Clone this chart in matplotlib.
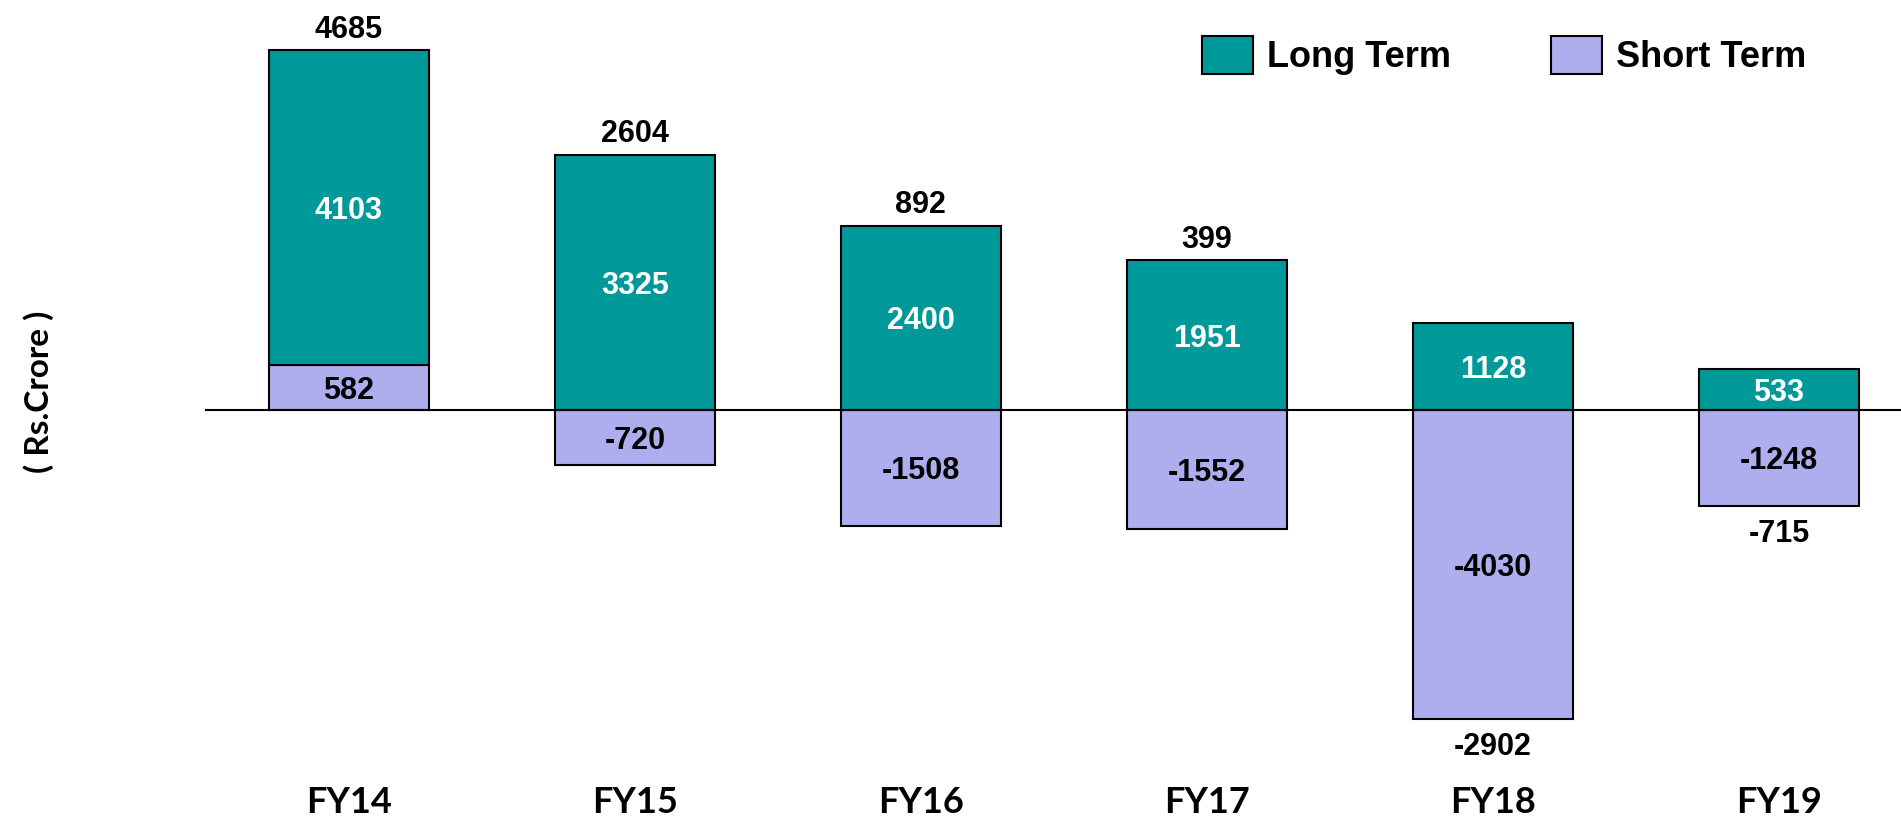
import matplotlib
matplotlib.use("Agg")
import matplotlib.pyplot as plt
from matplotlib.patches import Patch

# Net capital flows by fiscal year (Rs. Crore)
years = ["FY14", "FY15", "FY16", "FY17", "FY18", "FY19"]
long_term = [4103, 3325, 2400, 1951, 1128, 533]
short_term = [582, -720, -1508, -1552, -4030, -1248]
net_total = [4685, 2604, 892, 399, -2902, -715]

LONG_COLOR = "#009999"
SHORT_COLOR = "#AEAEEE"
NUM_FONT = "Liberation Sans"
CAT_FONT = "Lato"

fig = plt.figure(figsize=(19.01, 8.19), dpi=100)
ax = fig.add_axes([0, 0, 1, 1])

x = list(range(len(years)))
width = 0.56

# Positive short-term flows sit beneath the long-term bar; negatives hang below zero
long_bottom = [s if s > 0 else 0 for s in short_term]
ax.bar(x, short_term, width, color=SHORT_COLOR, edgecolor="black", linewidth=1.5, zorder=2)
ax.bar(x, long_term, width, bottom=long_bottom, color=LONG_COLOR, edgecolor="black",
       linewidth=1.5, zorder=2)

ax.axhline(0, xmin=0.1084, xmax=1, color="black", linewidth=1.5, zorder=3)

num_kw = dict(fontsize=22, fontweight="bold", family=NUM_FONT)

for i in x:
    lt, st, tot = long_term[i], short_term[i], net_total[i]
    # segment values
    ax.text(i, long_bottom[i] + lt / 2, f"{lt}", ha="center", va="center_baseline",
            color="white", zorder=4, **num_kw)
    ax.text(i, st / 2, f"{st}", ha="center", va="center_baseline",
            color="black", zorder=4, **num_kw)
    # net total above or below the stack
    if tot >= 0:
        top = long_bottom[i] + lt
        ax.annotate(f"{tot}", (i, top), xytext=(0, 9), textcoords="offset points",
                    ha="center", va="baseline", **num_kw)
    else:
        bot = min(st, 0)
        ax.annotate(f"{tot}", (i, bot), xytext=(0, -26), textcoords="offset points",
                    ha="center", va="baseline", **num_kw)
    ax.text(i, -5250, years[i], ha="center", va="baseline", fontsize=26,
            fontweight="bold", family=CAT_FONT)

ax.text(-1.085, 230, "( Rs.Crore )", rotation=90, ha="center", va="center",
        fontsize=24, fontweight="bold", family=CAT_FONT)

handles = [Patch(facecolor=LONG_COLOR, edgecolor="black", linewidth=1.5, label="Long Term"),
           Patch(facecolor=SHORT_COLOR, edgecolor="black", linewidth=1.5, label="Short Term")]
ax.legend(handles=handles, loc="center left", bbox_to_anchor=(0.6323, 0.932), ncol=2,
          frameon=False, prop={"family": NUM_FONT, "weight": "bold", "size": 26},
          handlelength=1.41, handleheight=1.25, handletextpad=0.4, columnspacing=2.75,
          borderpad=0, borderaxespad=0)

ax.set_xlim(-1.220, 5.427)
ax.set_ylim(-5330, 5340)
ax.axis("off")

fig.savefig("out.png", dpi=100)
